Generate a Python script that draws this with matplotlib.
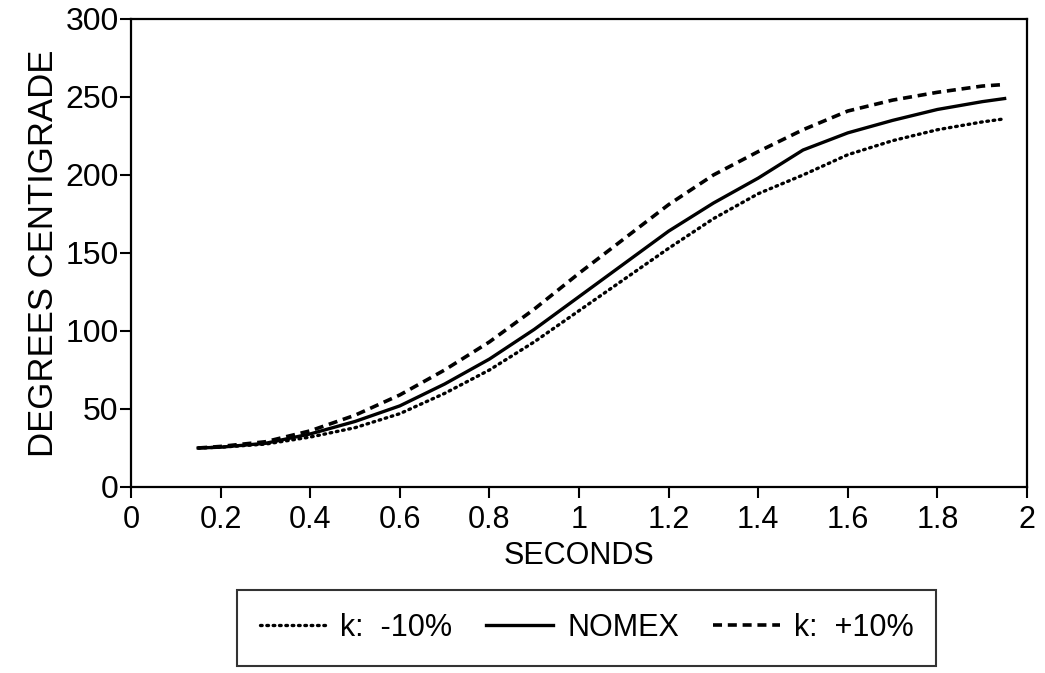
import numpy as np
import matplotlib
matplotlib.use('Agg')
import matplotlib.pyplot as plt

plt.rcParams['font.family'] = ['Liberation Sans', 'DejaVu Sans']

# time in seconds
t = [0.15, 0.2, 0.3, 0.4, 0.5, 0.6, 0.7, 0.8, 0.9, 1.0,
     1.1, 1.2, 1.3, 1.4, 1.5, 1.6, 1.7, 1.8, 1.9, 1.95]
# temperatures, degrees C
k_minus = [25, 25.5, 27.5, 32, 38, 47, 60, 75, 93, 113,
           133, 153, 172, 188, 200, 213, 222, 229, 234, 236]
nomex = [25, 25.5, 28, 34, 42, 52, 66, 82, 101, 122,
         143, 164, 182, 198, 216, 227, 235, 242, 247, 249]
k_plus = [25, 26, 29, 36, 46, 59, 75, 93, 114, 137,
          159, 181, 200, 215, 229, 241, 248, 253, 257, 258]

xticks = [0, 0.2, 0.4, 0.6, 0.8, 1, 1.2, 1.4, 1.6, 1.8, 2]
xlabels = ['0', '0.2', '0.4', '0.6', '0.8', '1', '1.2', '1.4', '1.6', '1.8', '2']
yticks = [0, 50, 100, 150, 200, 250, 300]

fig = plt.figure(figsize=(10.45, 6.73), dpi=100)
ax = fig.add_axes([0.1254, 0.2764, 0.8574, 0.6954])

l1, = ax.plot(t, k_minus, color='black', lw=2.4, linestyle=(0, (0.5, 1.4)),
              dash_capstyle='round', label='k:  -10%')
l2, = ax.plot(t, nomex, color='black', lw=2.4, label='NOMEX')
l3, = ax.plot(t, k_plus, color='black', lw=2.6, linestyle=(0, (2.5, 1.6)),
              label='k:  +10%')

ax.set_xlim(0, 2)
ax.set_ylim(0, 300)
ax.set_xticks(xticks)
ax.set_xticklabels(xlabels)
ax.set_yticks(yticks)
for s in ax.spines.values():
    s.set_linewidth(1.6)
ax.tick_params(axis='both', direction='out', length=8, width=1.5,
               colors='black')
ax.tick_params(axis='x', pad=5, labelsize=22)
ax.tick_params(axis='y', pad=1, labelsize=23)

ax.set_xlabel('SECONDS', fontsize=22, labelpad=4)
ax.set_ylabel('DEGREES CENTIGRADE', fontsize=25, labelpad=4)

leg = fig.legend(handles=[l1, l2, l3], loc='center',
                 bbox_to_anchor=(0.5612, 0.0669), ncol=3, fontsize=22,
                 frameon=True, fancybox=False, edgecolor='black',
                 handlelength=2.2, handletextpad=0.45, columnspacing=1.1,
                 borderpad=0.75)
leg.get_frame().set_linewidth(1.5)

fig.savefig('out.png', dpi=100)
